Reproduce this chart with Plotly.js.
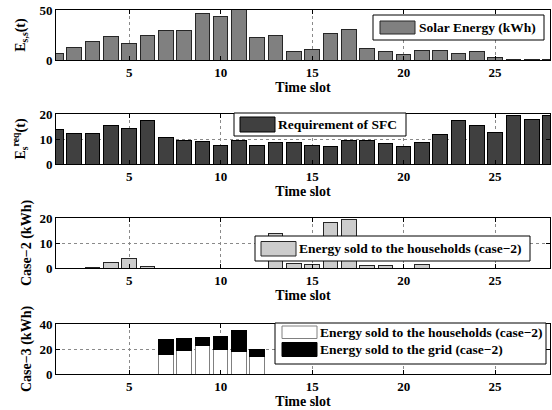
<!DOCTYPE html>
<html><head><meta charset="utf-8">
<script src="https://cdn.plot.ly/plotly-3.0.1.min.js"></script>
<style>html,body{margin:0;padding:0;background:#fff;} #chart{width:552px;height:410px;}</style>
</head><body><div id="chart"></div>
<script>
// ---- data ----
const timeSlots = [1,2,3,4,5,6,7,8,9,10,11,12,13,14,15,16,17,18,19,20,21,22,23,24,25,26,27,28];
const solarEnergy = [6.3,12.5,19,24,17,25,30,30,47,44,51,23,25,9,11,27,31,12,9,6,9.3,10,6.3,9,2.6,1,0.7,0.5];
const sfcRequirement = [14,12.4,12.4,15.5,14.4,17.6,10.8,9.6,9.2,7.5,9.6,7.6,8.8,8.7,7.6,6.9,9.5,9.5,8.4,7.2,8.8,11.9,17.6,15.6,12.7,19.5,17.9,19.4];
const case2Households = [0,0,0.3,2.3,3.9,0.5,0,0,0,0,0,0,14,1.7,1.5,18.2,19.6,1.1,1.2,0,1.5,0,0,0,0,0,0,0];
const case3Households = [0,0,0,0,0,0,16,19,22.5,20,18,14,0,0,0,0,0,0,0,0,0,0,0,0,0,0,0,0];
const case3Grid = [0,0,0,0,0,0,12,9.5,7,10,16.5,6,0,0,0,0,0,0,0,0,0,0,0,0,0,0,0,0];
const xTickVals = [5,10,15,20,25];
const yTicks1 = [0,50], yTicks2 = [0,10,20], yTicks3 = [0,10,20], yTicks4 = [0,20,40];
const labelSolar = 'Solar Energy (kWh)';
const labelSFC = 'Requirement of SFC';
const labelCase2 = 'Energy sold to the households (case\u22122)';
const labelCase3Grid = 'Energy sold to the grid (case\u22122)';

// ---- layout helpers ----
const W = 552, H = 410, ML = 56, MR = 2, MT = 10, MB = 36;
const PW = W - ML - MR, PH = H - MT - MB;
const px = x => (x - ML) / PW;
const py = y => (H - MB - y) / PH;
const FAM = 'Liberation Serif, Times New Roman, serif';
const tickFont = {family: FAM, size: 13, color: '#000', weight: 'bold'};
const titleFont = {family: FAM, size: 14, color: '#000', weight: 'bold'};
const legendFont = {family: FAM, size: 13.5, color: '#000', weight: 'bold'};

function xAxis(anchor) {
  return {anchor: anchor, domain: [0, 1], range: [1, 28], tickvals: xTickVals, ticks: 'inside', ticklen: 4,
    tickcolor: '#000', showline: true, linecolor: '#000', linewidth: 1, mirror: 'ticks',
    showgrid: true, gridcolor: '#8a8a8a', griddash: 'dot', gridwidth: 1, zeroline: false,
    tickfont: tickFont, title: {text: 'Time slot', font: titleFont, standoff: 2}, fixedrange: true};
}
function yAxis(anchor, dom, range, tv, title, standoff) {
  return {anchor: anchor, domain: dom, range: range, tickvals: tv, ticks: 'inside', ticklen: 4,
    tickcolor: '#000', showline: true, linecolor: '#000', linewidth: 1, mirror: 'ticks',
    showgrid: true, gridcolor: '#8a8a8a', griddash: 'dot', gridwidth: 1, zeroline: false,
    tickfont: tickFont, title: {text: title, font: titleFont, standoff: standoff}, fixedrange: true};
}

const traces = [
  {type: 'bar', x: timeSlots, y: solarEnergy, xaxis: 'x', yaxis: 'y', name: labelSolar,
   marker: {color: '#808080', line: {color: '#262626', width: 1}}},
  {type: 'bar', x: timeSlots, y: sfcRequirement, xaxis: 'x2', yaxis: 'y2', name: labelSFC,
   marker: {color: '#404040', line: {color: '#000', width: 1}}},
  {type: 'bar', x: timeSlots, y: case2Households, xaxis: 'x3', yaxis: 'y3', name: labelCase2,
   marker: {color: '#cccccc', line: {color: '#262626', width: 1}}},
  {type: 'bar', x: timeSlots, y: case3Households, xaxis: 'x4', yaxis: 'y4', name: labelCase2,
   marker: {color: '#ffffff', line: {color: '#808080', width: 1}}},
  {type: 'bar', x: timeSlots, y: case3Grid, xaxis: 'x4', yaxis: 'y4', name: labelCase3Grid,
   marker: {color: '#000000', line: {color: '#000', width: 1}}}
];

// custom MATLAB-style legends (box, wide swatch, text)
const shapes = [], annotations = [];
function box(x0, y0, x1, y1, fill, line) {
  shapes.push({type: 'rect', xref: 'paper', yref: 'paper', x0: px(x0), x1: px(x1), y0: py(y1), y1: py(y0),
    fillcolor: fill, line: {color: line, width: 1}, layer: 'above'});
}
function label(x, y, text) {
  annotations.push({xref: 'paper', yref: 'paper', x: px(x), y: py(y), xanchor: 'left', yanchor: 'middle',
    text: text, showarrow: false, font: legendFont, borderpad: 0});
}
box(373, 15, 544, 40, '#fff', '#000'); box(380, 21, 415, 34, '#808080', '#262626'); label(418, 27.5, labelSolar);
box(234, 113, 406, 136, '#fff', '#000'); box(240, 117, 275, 132, '#404040', '#000'); label(277, 124.5, labelSFC);
box(255, 236, 530, 261, '#fff', '#000'); box(261, 241.5, 296, 256, '#cccccc', '#262626'); label(298, 248.5, labelCase2);
box(275, 323, 546, 364, '#fff', '#000');
box(282, 326, 317, 338.5, '#fff', '#808080'); label(318.5, 332, labelCase2);
box(282, 342.5, 317, 356.5, '#000', '#000'); label(318.5, 349.5, labelCase3Grid);

const layout = {
  width: W, height: H, margin: {l: ML, r: MR, t: MT, b: MB}, paper_bgcolor: '#fff', plot_bgcolor: '#fff',
  showlegend: false, barmode: 'stack', bargap: 0.2,
  xaxis: xAxis('y'), xaxis2: xAxis('y2'), xaxis3: xAxis('y3'), xaxis4: xAxis('y4'),
  yaxis: yAxis('x', [py(60), py(10)], [0, 50], yTicks1, 'E<sub>s,s</sub>(t)', 10),
  yaxis2: yAxis('x2', [py(164), py(114)], [0, 20], yTicks2, 'E<sub>s</sub><sup>req</sup>(t)', 10),
  yaxis3: yAxis('x3', [py(268), py(218)], [0, 20], yTicks3, 'Case\u22122 (kWh)', 4),
  yaxis4: yAxis('x4', [py(374), py(324)], [0, 40], yTicks4, 'Case\u22123 (kWh)', 4),
  shapes: shapes, annotations: annotations
};
Plotly.newPlot('chart', traces, layout, {staticPlot: true, displayModeBar: false});
</script></body></html>
